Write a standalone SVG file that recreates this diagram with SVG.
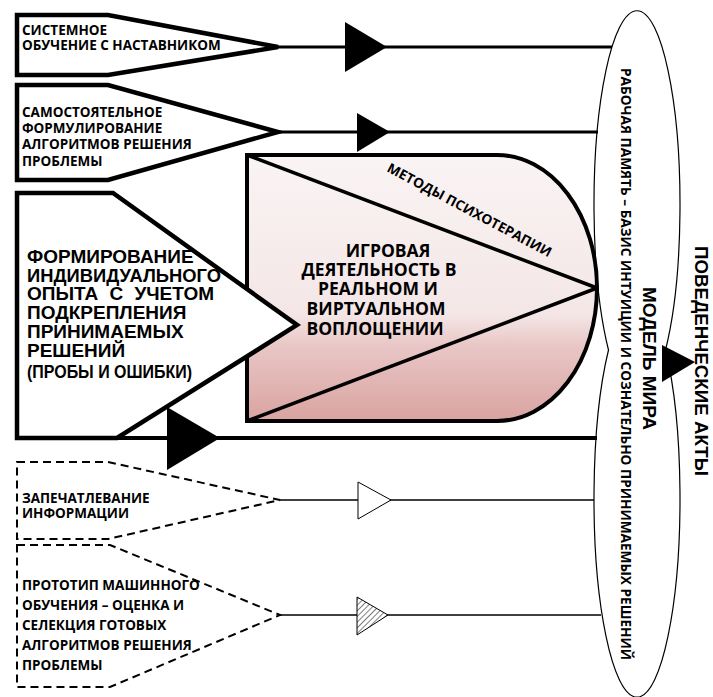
<svg xmlns="http://www.w3.org/2000/svg" width="713" height="697" viewBox="0 0 713 697">
<style>
.box{fill:#fff;stroke:#000;stroke-width:4.5;stroke-linejoin:miter}
.dbox{fill:#fff;stroke:#000;stroke-width:2;stroke-dasharray:8 5}
.lbl{font-family:"Open Sans","Noto Sans",sans-serif;font-weight:bold;font-size:13.5px;fill:#000}
.big{font-family:"Liberation Sans",Arial,sans-serif;font-weight:bold;font-size:19px;fill:#000}
.ctr{font-family:"Open Sans","Noto Sans",sans-serif;font-weight:bold;font-size:17.5px;fill:#000;text-anchor:middle}
.thick{stroke:#000;stroke-width:3;fill:none}
.thin{stroke:#000;stroke-width:1.3;fill:none}
.arr{fill:#000}
</style>
<defs>
<linearGradient id="pink" gradientUnits="userSpaceOnUse" x1="0" y1="155" x2="0" y2="421">
<stop offset="0" stop-color="#faf4f4"/>
<stop offset="0.6" stop-color="#f4e6e6"/>
<stop offset="0.72" stop-color="#e8c6c5"/>
<stop offset="1" stop-color="#d9a3a1"/>
</linearGradient>
<pattern id="hatch" patternUnits="userSpaceOnUse" width="4" height="4" patternTransform="rotate(45)">
<rect width="4" height="4" fill="#fff"/>
<line x1="0" y1="0" x2="0" y2="4" stroke="#000" stroke-width="1"/>
</pattern>
</defs>

<g id="model">
<path d="M608.5,350 A43,194 0 1 1 665.5,350 A43,198.5 0 1 1 608.5,350 Z" fill="#fff" stroke="#000" stroke-width="1.2"/>
<text transform="translate(621,68) rotate(90)" class="lbl" font-size="12.5" textLength="592" lengthAdjust="spacingAndGlyphs">РАБОЧАЯ ПАМЯТЬ – БАЗИС ИНТУИЦИИ  И СОЗНАТЕЛЬНО ПРИНИМАЕМЫХ РЕШЕНИЙ</text>
<text transform="translate(643,287) rotate(90)" class="big" font-size="18.5" textLength="143" lengthAdjust="spacingAndGlyphs">МОДЕЛЬ МИРА</text>
</g>

<g id="acts">
<text transform="translate(695,246) rotate(90)" class="big" font-size="18" textLength="230" lengthAdjust="spacingAndGlyphs">ПОВЕДЕНЧЕСКИЕ АКТЫ</text>
</g>

<g id="connectors">
<line class="thick" x1="278" y1="47" x2="612" y2="47"/>
<polygon class="arr" points="345,22 387,47 345,72"/>
<line class="thick" x1="278" y1="132" x2="598" y2="132"/>
<polygon class="arr" points="357,113 390,132 357,152"/>
<line class="thin" x1="280" y1="500" x2="594" y2="500"/>
<polygon points="358,482 391,500 358,519" fill="#fff" stroke="#000" stroke-width="1"/>
<line class="thin" x1="280" y1="615" x2="601" y2="615"/>
<polygon points="357,597 388,615 357,635" fill="url(#hatch)" stroke="#000" stroke-width="1"/>
<polygon class="arr" points="662,345 695,362 662,382"/>
</g>

<g id="n-game">
<path d="M247,155 H497 A100,133 0 0 1 597,288 A100,133 0 0 1 497,421 H247 Z" fill="url(#pink)" stroke="#000" stroke-width="4"/>
<line x1="247" y1="155" x2="597" y2="288" stroke="#000" stroke-width="3.5"/>
<line x1="247" y1="421" x2="597" y2="288" stroke="#000" stroke-width="3.5"/>
<text transform="translate(386,171) rotate(28)" class="lbl" font-size="12.5" textLength="184" lengthAdjust="spacingAndGlyphs">МЕТОДЫ ПСИХОТЕРАПИИ</text>
<text class="ctr" x="388" y="257">ИГРОВАЯ</text>
<text class="ctr" x="379" y="276">ДЕЯТЕЛЬНОСТЬ В</text>
<text class="ctr" x="378" y="295">РЕАЛЬНОМ И</text>
<text class="ctr" x="376" y="315">ВИРТУАЛЬНОМ</text>
<text class="ctr" x="375" y="335">ВОПЛОЩЕНИИ</text>
</g>

<g id="n-trial">
<polygon class="box" stroke-width="5" points="17,193 113,193 297,325 117,438 17,438"/>
<line x1="117" y1="438" x2="597" y2="438" stroke="#000" stroke-width="4"/>
<polygon class="arr" points="167,407 220,438 167,470"/>
<text class="big" x="27" y="263">ФОРМИРОВАНИЕ</text>
<text class="big" x="27" y="282" textLength="194" lengthAdjust="spacingAndGlyphs">ИНДИВИДУАЛЬНОГО</text>
<text class="big" x="27" y="300" word-spacing="6">ОПЫТА С УЧЕТОМ</text>
<text class="big" x="27" y="319">ПОДКРЕПЛЕНИЯ</text>
<text class="big" x="27" y="338">ПРИНИМАЕМЫХ</text>
<text class="big" x="27" y="357">РЕШЕНИЙ</text>
<text class="big" x="27" y="378" font-size="14" textLength="165" lengthAdjust="spacingAndGlyphs">(ПРОБЫ И ОШИБКИ)</text>
</g>

<g id="n-mentor">
<polygon class="box" points="17,15 108,15 278,47 108,75 17,75"/>
<text class="lbl" x="22" y="35">СИСТЕМНОЕ</text>
<text class="lbl" x="22" y="50">ОБУЧЕНИЕ С НАСТАВНИКОМ</text>
</g>

<g id="n-self">
<polygon class="box" points="17,85 108,85 278,132 108,180 17,180"/>
<text class="lbl" x="22" y="117">САМОСТОЯТЕЛЬНОЕ</text>
<text class="lbl" x="22" y="133">ФОРМУЛИРОВАНИЕ</text>
<text class="lbl" x="22" y="149">АЛГОРИТМОВ РЕШЕНИЯ</text>
<text class="lbl" x="22" y="166">ПРОБЛЕМЫ</text>
</g>

<g id="n-imprint">
<polygon class="dbox" points="17,462 108,462 280,500 108,539 17,539"/>
<text class="lbl" x="22" y="503">ЗАПЕЧАТЛЕВАНИЕ</text>
<text class="lbl" x="22" y="518">ИНФОРМАЦИИ</text>
</g>

<g id="n-ml">
<polygon class="dbox" points="17,545 110,545 280,615 110,687 17,687"/>
<text class="lbl" x="22" y="590">ПРОТОТИП МАШИННОГО</text>
<text class="lbl" x="22" y="610">ОБУЧЕНИЯ – ОЦЕНКА И</text>
<text class="lbl" x="22" y="630">СЕЛЕКЦИЯ ГОТОВЫХ</text>
<text class="lbl" x="22" y="650">АЛГОРИТМОВ РЕШЕНИЯ</text>
<text class="lbl" x="22" y="670">ПРОБЛЕМЫ</text>
</g>
</svg>
